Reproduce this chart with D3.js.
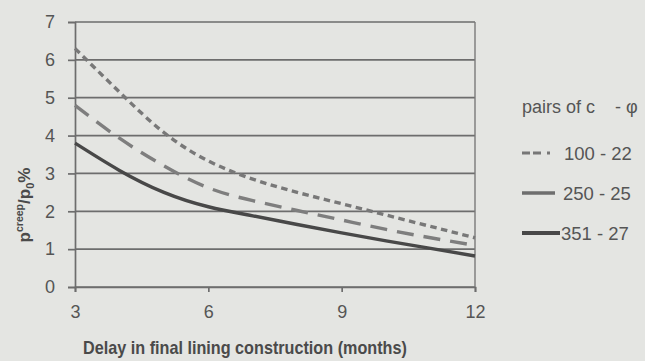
<!DOCTYPE html>
<html>
<head>
<meta charset="utf-8">
<script src="https://cdn.jsdelivr.net/npm/d3@7"></script>
<style>
  html, body { margin: 0; padding: 0; background: #e4e5e2; }
  svg { display: block; }
  text { font-family: "Liberation Sans", Arial, sans-serif; }
</style>
</head>
<body>
<svg id="chart" width="645" height="361"></svg>
<script>
// Delay in final lining construction (months)
const months = [3, 4, 5, 6, 7, 8, 9, 10, 11, 12];
// p_creep / p_0 (%) for each c - phi pair
const series100_22 = [6.3, 5.15, 4.08, 3.33, 2.85, 2.5, 2.2, 1.9, 1.6, 1.3];
const series250_25 = [4.8, 3.93, 3.2, 2.62, 2.28, 2.02, 1.77, 1.52, 1.3, 1.1];
const series351_27 = [3.8, 3.08, 2.5, 2.12, 1.88, 1.65, 1.43, 1.22, 1.02, 0.82];
const seriesNames = ["100 - 22", "250 - 25", "351 - 27"];
const xTicks = [3, 6, 9, 12];
const yTicks = [0, 1, 2, 3, 4, 5, 6, 7];

const svg = d3.select("#chart");
const plotLeft = 75, plotRight = 475, plotTop = 22, plotBottom = 287;

const x = d3.scaleLinear().domain([3, 12]).range([plotLeft, plotRight]);
const y = d3.scaleLinear().domain([0, 7]).range([plotBottom, plotTop]);

const ink = "#555555";
const gridColor = "#6d6d6d";

// horizontal gridlines
svg.append("g")
  .selectAll("line")
  .data(yTicks)
  .join("line")
  .attr("x1", plotLeft).attr("x2", plotRight)
  .attr("y1", d => y(d)).attr("y2", d => y(d))
  .attr("stroke", gridColor).attr("stroke-width", 1.7);

// right border of the plot area
svg.append("line")
  .attr("x1", plotRight).attr("x2", plotRight).attr("y1", plotTop).attr("y2", plotBottom)
  .attr("stroke", "#7a7a7a").attr("stroke-width", 1.4);

// y axis
const yAxis = svg.append("g")
  .attr("transform", `translate(${plotLeft},0)`)
  .call(d3.axisLeft(y).tickValues(yTicks).tickSize(7).tickPadding(13).tickFormat(d3.format("d")));
yAxis.select(".domain").attr("stroke", gridColor).attr("stroke-width", 1.7);
yAxis.selectAll(".tick line").attr("stroke", gridColor).attr("stroke-width", 1.7);
yAxis.selectAll(".tick text").attr("fill", ink).attr("font-size", 18);

// x axis
const xAxis = svg.append("g")
  .attr("transform", `translate(0,${plotBottom})`)
  .call(d3.axisBottom(x).tickValues(xTicks).tickSize(5).tickPadding(13).tickFormat(d3.format("d")));
xAxis.select(".domain").attr("stroke", gridColor).attr("stroke-width", 1.7);
xAxis.selectAll(".tick line").attr("stroke", gridColor).attr("stroke-width", 1.7);
xAxis.selectAll(".tick text").attr("fill", ink).attr("font-size", 18);

// curves
const line = d3.line()
  .x((d, i) => x(months[i]))
  .y(d => y(d))
  .curve(d3.curveNatural);

const styles = [
  { data: series100_22, color: "#787878", width: 3.4, dash: "6.5,4.5" },
  { data: series250_25, color: "#7e7e7e", width: 3.4, dash: "17,10" },
  { data: series351_27, color: "#484848", width: 3.4, dash: null }
];

svg.append("g")
  .selectAll("path")
  .data(styles)
  .join("path")
  .attr("d", d => line(d.data))
  .attr("fill", "none")
  .attr("stroke", d => d.color)
  .attr("stroke-width", d => d.width)
  .attr("stroke-dasharray", d => d.dash);

// axis titles
svg.append("text")
  .attr("x", 245).attr("y", 354)
  .attr("text-anchor", "middle")
  .attr("font-size", 16.2).attr("font-weight", "bold")
  .attr("fill", "#4a4a4a")
  .attr("transform", "translate(0,354) scale(1,1.12) translate(0,-354)")
  .text("Delay in final lining construction (months)");

const yTitle = svg.append("text")
  .attr("transform", "translate(30,205) rotate(-90)")
  .attr("text-anchor", "middle")
  .attr("font-size", 17).attr("font-weight", "bold")
  .attr("fill", "#4a4a4a");
yTitle.append("tspan").text("p");
yTitle.append("tspan").attr("font-size", 10.5).attr("dy", -7).text("creep");
yTitle.append("tspan").attr("dy", 7).text("/p");
yTitle.append("tspan").attr("font-size", 11).attr("dy", 4).text("0");
yTitle.append("tspan").attr("dy", -4).text("%");

// legend
const legend = svg.append("g");
legend.append("text")
  .attr("x", 522).attr("y", 113)
  .attr("font-size", 18).attr("fill", ink)
  .text("pairs of c");
legend.append("text")
  .attr("x", 615).attr("y", 113)
  .attr("font-size", 18).attr("fill", ink)
  .text("- φ");

const legendY = [153, 193, 233];
const legendStyles = [
  { color: "#777777", width: 3.2, dash: "8,3,8,6,3,50", x2: 561, tx: 564 },
  { color: "#6e6e6e", width: 3.4, dash: null, x2: 555, tx: 563 },
  { color: "#484848", width: 3.8, dash: null, x2: 560, tx: 561 }
];
legend.selectAll("line")
  .data(legendStyles)
  .join("line")
  .attr("x1", 522).attr("x2", d => d.x2)
  .attr("y1", (d, i) => legendY[i]).attr("y2", (d, i) => legendY[i])
  .attr("stroke", d => d.color)
  .attr("stroke-width", d => d.width)
  .attr("stroke-dasharray", d => d.dash);
legend.selectAll("text.entry")
  .data(seriesNames)
  .join("text")
  .attr("class", "entry")
  .attr("x", (d, i) => legendStyles[i].tx)
  .attr("y", (d, i) => legendY[i] + 6.5)
  .attr("font-size", 18.5).attr("fill", ink)
  .text(d => d);
</script>
</body>
</html>
